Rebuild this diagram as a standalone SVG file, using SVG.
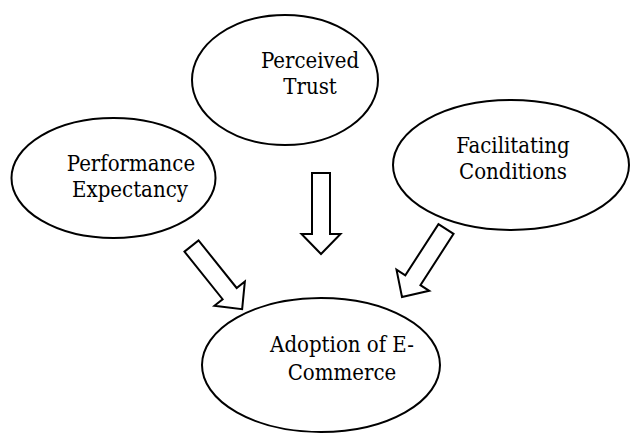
<svg xmlns="http://www.w3.org/2000/svg" width="631" height="435" viewBox="0 0 631 435">
  <style>
    .node ellipse { fill: #ffffff; stroke: #000000; stroke-width: 2; }
    .node text { font-family: "DejaVu Serif Condensed", "Liberation Serif", serif; font-size: 22px; fill: #000000; text-anchor: middle; }
    .arrow { fill: #ffffff; stroke: #000000; stroke-width: 2; stroke-linejoin: miter; }
  </style>
  <defs>
    <!-- hollow block arrow, origin at the middle of the shaft's tail, pointing down -->
    <path id="blockArrow" d="M -9 0 L 9 0 L 9 61 L 19.5 61 L 0 81 L -19.5 61 L -9 61 Z"/>
  </defs>
  <rect width="631" height="435" fill="#ffffff"/>

  <g id="connectors">
    <use href="#blockArrow" class="arrow" transform="translate(191.5 246) rotate(-38.7)"/>
    <use href="#blockArrow" class="arrow" transform="translate(321 173)"/>
    <use href="#blockArrow" class="arrow" transform="translate(446 229) rotate(32.9)"/>
  </g>

  <g id="perceived-trust" class="node">
    <ellipse cx="285" cy="80" rx="93" ry="65"/>
    <text x="310" y="68">Perceived</text>
    <text x="310" y="94">Trust</text>
  </g>

  <g id="performance-expectancy" class="node">
    <ellipse cx="113.5" cy="178" rx="102" ry="60"/>
    <text x="131" y="171">Performance</text>
    <text x="130" y="197">Expectancy</text>
  </g>

  <g id="facilitating-conditions" class="node">
    <ellipse cx="511" cy="165" rx="118" ry="65"/>
    <text x="513" y="153">Facilitating</text>
    <text x="513" y="179">Conditions</text>
  </g>

  <g id="adoption-of-e-commerce" class="node">
    <ellipse cx="321" cy="365" rx="119" ry="67"/>
    <text x="342" y="352">Adoption of E-</text>
    <text x="342" y="380">Commerce</text>
  </g>
</svg>
